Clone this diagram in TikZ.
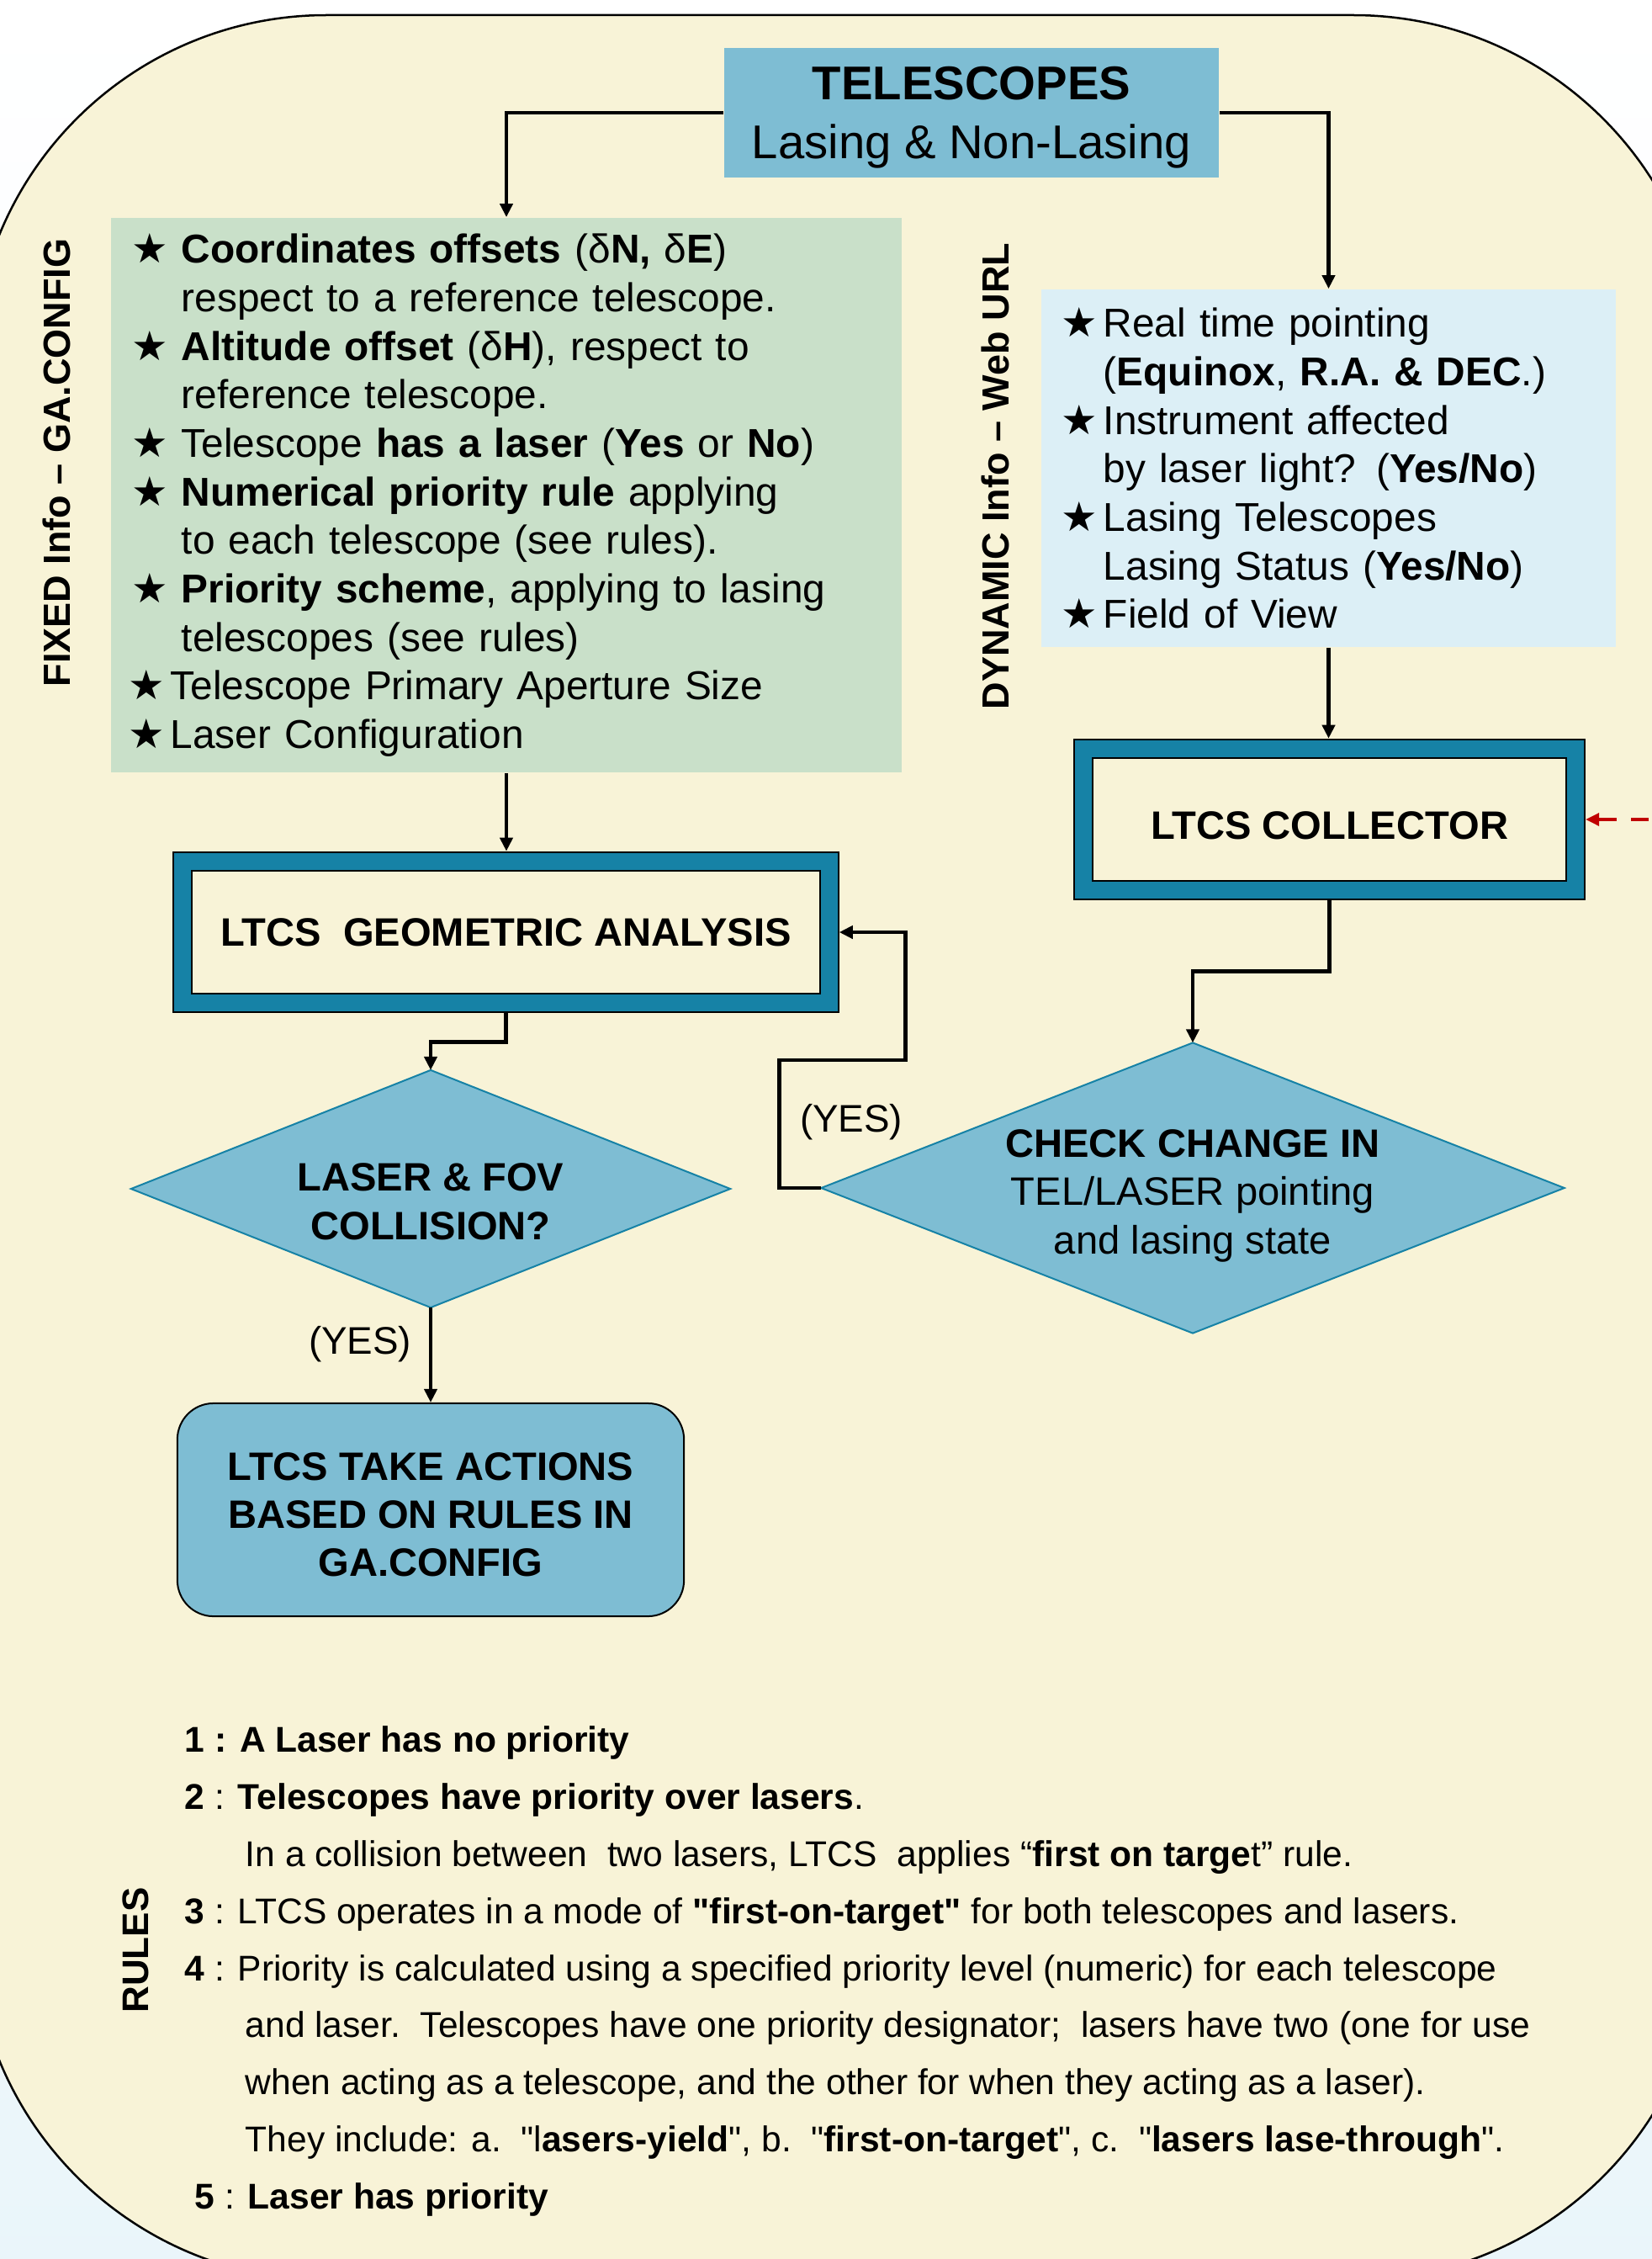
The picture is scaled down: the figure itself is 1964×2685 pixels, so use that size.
\documentclass[tikz,border=0pt]{standalone}
\usepackage{fontspec}
\setmainfont{Liberation Sans}
\newfontfamily\starfont{DejaVu Sans}
\newfontfamily\quotefont{Liberation Sans}
\usepackage{tikz}
\usetikzlibrary{shapes.geometric,arrows.meta}

\definecolor{cream}{RGB}{248,243,215}
\definecolor{tealc}{RGB}{22,130,166}
\definecolor{skyc}{RGB}{126,189,211}
\definecolor{greenc}{RGB}{201,224,201}
\definecolor{paleblue}{RGB}{220,239,246}
\definecolor{redc}{RGB}{192,0,0}

\newcommand{\bstar}{{\starfont\fontsize{13.8}{10}\selectfont ★}}
\newcommand{\dq}{{\quotefont"}}

\begin{document}
\begin{tikzpicture}[x=0.01cm,y=-0.01cm,>={Triangle[length=1.6mm,width=1.5mm]},
	flow/.style={->,line width=0.45mm},
	infobox/.style={inner xsep=0.25cm,inner ysep=0pt,align=left,font=\fontsize{13.6}{16.4}\selectfont},
	ltcsbox/.style={draw=black,line width=0.2mm,double=tealc,double distance=2mm,fill=cream,outer sep=1.2mm,inner sep=0pt,minimum height=1.685cm,font=\bfseries\fontsize{13.4}{16}\selectfont},
	decision/.style={diamond,draw=tealc,line width=0.2mm,fill=skyc,inner sep=0pt,outer sep=0pt,align=center,font=\fontsize{13.4}{16.3}\selectfont},
	vlabel/.style={rotate=90,font=\bfseries\fontsize{12.8}{15}\selectfont},
	yeslabel/.style={font=\fontsize{13}{15}\selectfont}]

	\useasboundingbox (0,0) rectangle (1964,2685);
	\clip (0,0) rectangle (1964,2685);
	\shade[top color=white,bottom color=paleblue!60] (0,0) rectangle (1964,2685);
	\draw[fill=cream,line width=0.25mm] (-32,1500) [rounded corners=4.2cm] -- (-32,18) -- (2029,18)
		-- (2029,2710) -- (-32,2710) -- cycle;

	\node[fill=skyc,minimum width=5.88cm,minimum height=1.54cm,text depth=0pt,align=center,font=\fontsize{16}{20}\selectfont] (tel) at (1155,134)
		{\textbf{TELESCOPES}\\Lasing \& Non-Lasing};

	\node[infobox,fill=greenc,text width=8.9cm,minimum height=6.59cm] (fixed) at (602,588.5) {%
		\makebox[5.9mm][l]{\bstar}\textbf{Coordinates offsets} (δ\textbf{N,} δ\textbf{E})\\
		\hspace*{5.9mm}respect to a reference telescope.\\
		\makebox[5.9mm][l]{\bstar}\textbf{Altitude offset} (δ\textbf{H}), respect to\\
		\hspace*{5.9mm}reference telescope.\\
		\makebox[5.9mm][l]{\bstar}Telescope \textbf{has a laser} (\textbf{Yes} or \textbf{No})\\
		\makebox[5.9mm][l]{\bstar}\textbf{Numerical priority rule} applying\\
		\hspace*{5.9mm}to each telescope (see rules).\\
		\makebox[5.9mm][l]{\bstar}\textbf{Priority scheme}, applying to lasing\\
		\hspace*{5.9mm}telescopes (see rules)\\
		\hspace*{-0.4mm}\makebox[5mm][l]{\bstar}Telescope Primary Aperture Size\\
		\hspace*{-0.4mm}\makebox[5mm][l]{\bstar}Laser Configuration};

	\node[infobox,fill=paleblue,inner xsep=0.24cm,text width=6.35cm,minimum height=4.25cm] (dyn) at (1579.5,556.5) {%
		\makebox[5mm][l]{\bstar}Real time pointing\\
		\hspace*{5mm}(\textbf{Equinox}, \textbf{R.A. \& DEC}.)\\
		\makebox[5mm][l]{\bstar}Instrument affected\\
		\hspace*{5mm}by laser light? (\textbf{Yes/No})\\
		\makebox[5mm][l]{\bstar}Lasing Telescopes\\
		\hspace*{5mm}Lasing Status (\textbf{Yes/No})\\
		\makebox[5mm][l]{\bstar}Field of View};

	\node[vlabel] (fixlbl) at (67,550) {FIXED Info -- GA.CONFIG};
	\node[vlabel] (dynlbl) at (1183,566) {DYNAMIC Info -- Web URL};

	\node[ltcsbox,minimum width=7.68cm] (geo) at (601.5,1108) {LTCS\ \ GEOMETRIC ANALYSIS};
	\node[ltcsbox,minimum width=5.85cm,text height=4.8mm] (coll) at (1580.5,974) {LTCS COLLECTOR};

	\node[decision,minimum width=8.83cm,minimum height=3.45cm,aspect=2.56,text height=15.65mm,text depth=0pt] (chk) at (1418,1412)
		{\textbf{CHECK CHANGE IN}\\TEL/LASER pointing\\and lasing state};
	\node[decision,minimum width=7.12cm,minimum height=2.82cm,aspect=2.52,text height=12.1mm] (las) at (512,1413)
		{\textbf{LASER \& FOV}\\\textbf{COLLISION?}};

	\node[draw=black,line width=0.2mm,fill=skyc,rounded corners=4.3mm,minimum width=6.02cm,minimum height=2.53cm,
		text height=15.9mm,align=center,font=\bfseries\fontsize{13.4}{16.3}\selectfont] (act) at (512,1794.5)
		{LTCS TAKE ACTIONS\\BASED ON RULES IN\\GA.CONFIG};

	\node[yeslabel] (yes1) at (428,1598) {(YES)};
	\node[yeslabel] (yes2) at (1012,1334) {(YES)};

	\draw[flow] (tel.west) -| (fixed.north);
	\draw[flow] (tel.east) -| (dyn.north);
	\draw[flow] (fixed.south) -- (fixed.south |- geo.north);
	\draw[flow] (dyn.south) -- (dyn.south |- coll.north);
	\draw[flow] (coll.south) -- ++(0,84) -| (chk.north);
	\draw[flow] (geo.south) -- ++(0,34) -| (las.north);
	\draw[flow] (las.south) -- (act.north);
	\draw[flow] (chk.west) -- ++(-50,0) -- ++(0,-152) -- ++(150,0) |- (geo.east);

	\coordinate (feed) at (1990,974);
	\draw[redc,line width=0.33mm,dash pattern=on 2.1mm off 1.7mm,dash phase=0.8mm,->] (feed) -- (coll.east);

	\node[vlabel,font=\bfseries\fontsize{12.5}{15}\selectfont] (ruleslbl) at (161,2318) {RULES};
	\node[anchor=west,inner sep=0pt,align=left,font=\fontsize{12.1}{19.3}\selectfont] (rules) at (219,2343) {%
		\textbf{1 : A Laser has no priority}\\
		\textbf{2} : \textbf{Telescopes have priority over lasers}.\\
		\hspace*{7.2mm}In a collision between\ \ two lasers, LTCS\ \ applies “\textbf{first on targe}t” rule.\\
		\textbf{3} : LTCS operates in a mode of \textbf{\dq first-on-target\dq} for both telescopes and lasers.\\
		\textbf{4} : Priority is calculated using a specified priority level (numeric) for each telescope\\
		\hspace*{7.2mm}and laser.\ \ Telescopes have one priority designator;\ \ lasers have two (one for use\\
		\hspace*{7.2mm}when acting as a telescope, and the other for when they acting as a laser).\\
		\hspace*{7.2mm}They include: a.\ \ \dq l\textbf{asers-yield}\dq, b.\ \ \dq\textbf{first-on-target}\dq, c.\ \ \dq\textbf{lasers lase-through}\dq.\\
		\hspace*{1.2mm}\textbf{5} : \textbf{Laser has priority}};
\end{tikzpicture}
\end{document}
